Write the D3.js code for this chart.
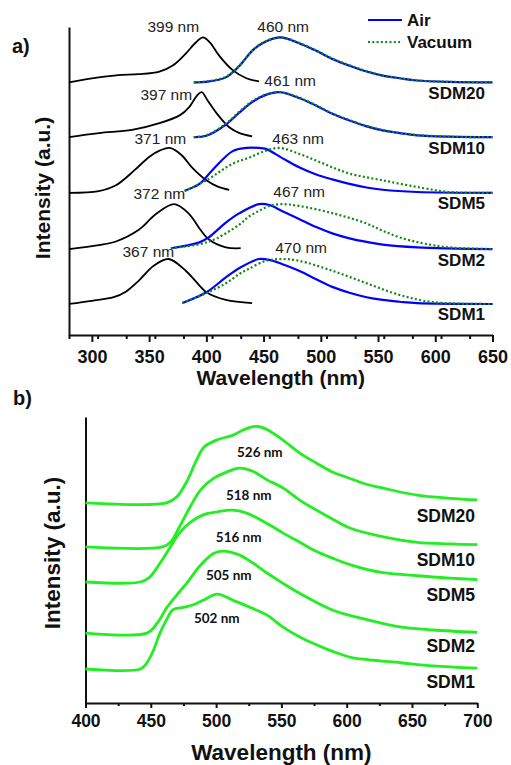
<!DOCTYPE html>
<html>
<head>
<meta charset="utf-8">
<script src="https://cdn.jsdelivr.net/npm/d3@7"></script>
<style>
	body { margin: 0; background: #fff; }
	svg { display: block; font-family: "Liberation Sans", Arial, sans-serif; }
	.tick text { font-size: 18px; font-weight: bold; fill: #111; }
	.axis path, .axis line { stroke: #111; stroke-width: 2px; }
</style>
</head>
<body>
<div id="chart"></div>
<script>
// ---------- panel a : absorption (black) + emission air / vacuum ----------
var samplesA = ["SDM20", "SDM10", "SDM5", "SDM2", "SDM1"];
var offsetsA = [4.93, 3.71, 2.47, 1.22, 0];

var absSDM20 = [[280,0],[306,.11],[323,.16],[341,.18],[359,.24],[371,.38],[382,.64],[391,.89],[397,1],[403,.89],[411,.6],[423,.27],[435,.09],[446,.02]];
var absSDM10 = [[280,0],[306,.09],[335,.16],[359,.31],[377,.49],[385,.67],[392,.93],[396,1],[401,.82],[409,.53],[420,.22],[429,.09],[440,.02]];
var absSDM5  = [[280,0],[306,.04],[321,.17],[337,.5],[350,.8],[360,.95],[368,1],[378,.85],[388,.55],[400,.28],[410,.14],[420,.07]];
var absSDM2  = [[280,0],[306,.09],[321,.17],[341,.43],[356,.78],[372,1],[385,.78],[394,.46],[402,.22],[417,.04],[430,.02]];
var absSDM1  = [[280,0],[300,.07],[319,.15],[330,.28],[341,.52],[354,.85],[367,1],[382,.74],[394,.41],[400,.26],[417,.09],[440,.02]];

var airSDM20 = [[389,0],[400,.01],[417,.11],[429,.37],[440,.7],[449,.87],[464,1],[481,.87],[496,.7],[510,.52],[525,.37],[540,.24],[554,.15],[569,.09],[584,.04],[612,.01],[650,0]];
var vacSDM20 = [[389,0],[400,.02],[417,.12],[429,.38],[440,.7],[449,.88],[464,1],[481,.88],[496,.71],[510,.53],[525,.38],[540,.25],[554,.15],[569,.09],[584,.04],[612,.01],[650,0]];
var airSDM10 = [[389,0],[400,.03],[417,.28],[429,.55],[440,.78],[452,.94],[464,1],[481,.87],[496,.7],[510,.52],[525,.37],[540,.24],[554,.15],[569,.09],[584,.04],[612,.01],[650,0]];
var vacSDM10 = [[389,0],[400,.04],[417,.3],[429,.57],[440,.8],[452,.95],[465,1],[481,.88],[496,.71],[510,.53],[525,.38],[540,.25],[554,.16],[569,.09],[584,.05],[612,.01],[650,0]];
var airSDM5  = [[381,.05],[394,.2],[405,.5],[423,.93],[435,1],[446,1],[452,.98],[466,.78],[481,.57],[496,.41],[510,.3],[525,.2],[540,.12],[554,.07],[584,.02],[650,0]];
var vacSDM5  = [[381,.04],[400,.28],[423,.65],[437,.78],[451,.93],[464,1],[481,.87],[496,.72],[510,.57],[525,.43],[554,.28],[589,.11],[612,.02],[650,0]];
var airSDM2  = [[369,.02],[394,.15],[402,.26],[417,.59],[429,.8],[446,1],[455,.98],[466,.85],[481,.67],[496,.49],[510,.35],[525,.24],[540,.16],[554,.1],[584,.04],[650,0]];
var vacSDM2  = [[369,.02],[394,.11],[409,.24],[429,.55],[437,.72],[446,.85],[455,.96],[466,1],[481,.96],[510,.8],[540,.57],[554,.41],[569,.26],[589,.13],[612,.04],[650,0]];
var airSDM1  = [[379,.02],[400,.26],[417,.59],[429,.8],[446,1],[455,.98],[466,.89],[481,.74],[496,.55],[510,.38],[525,.25],[540,.15],[554,.09],[569,.05],[584,.02],[650,0]];
var vacSDM1  = [[379,.02],[400,.24],[417,.46],[429,.67],[437,.78],[452,.96],[466,1],[481,.96],[510,.74],[540,.46],[569,.2],[598,.04],[650,0]];

var absData = [absSDM20, absSDM10, absSDM5, absSDM2, absSDM1];
var airData = [airSDM20, airSDM10, airSDM5, airSDM2, airSDM1];
var vacData = [vacSDM20, vacSDM10, vacSDM5, vacSDM2, vacSDM1];

var absPeakText = ["399 nm", "397 nm", "371 nm", "372 nm", "367 nm"];
var absPeakAt   = [[393.7,1.11],[387.6,.82],[382.4,1.09],[381.5,1.11],[371.9,1.04]];   // right edge (nm), height
var emPeakText  = ["460 nm", "461 nm", "463 nm", "467 nm", "470 nm"];
var emPeakAt    = [[444.5,1.11],[450.6,1.13],[457.6,1.09],[458.5,1.16],[460.2,1.13]];   // left edge (nm), height
var ticksA = [300, 350, 400, 450, 500, 550, 600, 650];

// ---------- panel b : green emission ----------
var samplesB = ["SDM20", "SDM10", "SDM5", "SDM2", "SDM1"];
var offsetsB = [2.128, 1.564, 1.115, 0.46, 0];

var pbSDM20 = [[400,0],[462,0],[470,.08],[478,.29],[485,.55],[491,.72],[501,.81],[513,.87],[520,.93],[526,.97],[532,.98],[538,.95],[544,.89],[551,.81],[564,.64],[577,.51],[590,.39],[600,.33],[615,.24],[628,.19],[654,.1],[679,.06],[700,.04]];
var pbSDM10 = [[400,0],[459,0],[465,.06],[472,.26],[480,.51],[488,.73],[498,.88],[508,.96],[518,1.01],[528,.97],[539,.86],[551,.76],[564,.6],[577,.47],[590,.35],[603,.24],[628,.13],[654,.06],[679,.04],[700,.03]];
var pbSDM5  = [[400,0],[442,0],[449,.06],[457,.24],[465,.45],[472,.63],[480,.76],[490,.86],[501,.9],[513,.92],[524,.88],[541,.73],[551,.63],[564,.51],[577,.39],[590,.3],[603,.22],[616,.16],[628,.12],[654,.08],[679,.05],[700,.03]];
var pbSDM2  = [[400,0],[447,0],[455,.13],[462,.32],[470,.49],[478,.65],[488,.87],[498,1.02],[505,1.05],[518,1.0],[528,.9],[539,.77],[551,.64],[564,.51],[590,.29],[616,.17],[641,.08],[666,.04],[700,.01]];
var pbSDM1  = [[400,0],[442,0],[447,.08],[452,.24],[457,.46],[462,.63],[467,.76],[475,.79],[482,.82],[490,.88],[501,.96],[513,.88],[526,.79],[539,.69],[551,.54],[564,.41],[577,.31],[590,.22],[603,.15],[616,.12],[641,.08],[666,.04],[700,.01]];
var pbData = [pbSDM20, pbSDM10, pbSDM5, pbSDM2, pbSDM1];

var pbPeakText = ["526 nm", "518 nm", "516 nm", "505 nm", "502 nm"];
var pbPeakAt   = [[516,.59],[507.5,.6],[499.8,.51],[492.2,.68],[483,.59]];   // left edge (nm), height
var ticksB = [400, 450, 500, 550, 600, 650, 700];

// ---------- drawing ----------
var W = 511, H = 765;
var svg = d3.select("#chart").append("svg").attr("width", W).attr("height", H);
var smooth = d3.curveCatmullRom.alpha(0.5);

function drawPanel(cfg) {
	var x = d3.scaleLinear().domain(cfg.xDomain).range(cfg.xRange);
	var y = d3.scaleLinear().domain(cfg.yDomain).range(cfg.yRange);
	var g = svg.append("g");

	// minor ticks
	var minor = d3.range(cfg.xDomain[0], cfg.xDomain[1] + 0.1, 25).filter(function(v){ return cfg.ticks.indexOf(v) < 0; });
	g.append("g").attr("class", "axis")
		.attr("transform", "translate(0," + cfg.yRange[0] + ")")
		.call(d3.axisBottom(x).tickValues(minor).tickSize(cfg.minorLen).tickFormat(""))
		.select(".domain").remove();
	g.append("g").attr("class", "axis")
		.attr("transform", "translate(0," + cfg.yRange[0] + ")")
		.call(d3.axisBottom(x).tickValues(cfg.ticks).tickSizeInner(cfg.majorLen).tickSizeOuter(0).tickPadding(cfg.pad).tickFormat(d3.format("d")))
		.selectAll(".tick text").style("font-size", cfg.tickFont + "px");
	g.append("g").attr("class", "axis")
		.attr("transform", "translate(" + cfg.xRange[0] + ",0)")
		.call(d3.axisLeft(y).tickValues([]).tickSizeOuter(0));

	g.append("text").attr("x", (cfg.xRange[0] + cfg.xRange[1]) / 2).attr("y", cfg.titleY)
		.attr("text-anchor", "middle").style("font-size", cfg.titleFont + "px").style("font-weight", "bold").attr("fill", "#111")
		.text("Wavelength (nm)");
	g.append("text").attr("transform", "translate(" + cfg.yTitle[0] + "," + cfg.yTitle[1] + ") rotate(-90)")
		.attr("text-anchor", "middle").attr("dy", "0.36em")
		.style("font-size", cfg.titleFont + "px").style("font-weight", "bold").attr("fill", "#111")
		.text("Intensity (a.u.)");
	g.append("text").attr("x", cfg.tag[0]).attr("y", cfg.tag[1])
		.style("font-size", "20px").style("font-weight", "bold").attr("fill", "#111").text(cfg.tagText);
	return {x: x, y: y, g: g};
}

// panel a
var A = drawPanel({
	xDomain: [280, 650], xRange: [69, 492.5],
	yDomain: [-0.69, 6.16], yRange: [335, 27],
	ticks: ticksA, majorLen: 7, minorLen: 4, pad: 8, tickFont: 18,
	titleY: 385, titleFont: 21, yTitle: [42, 188], tag: [12, 53], tagText: "a)"
});

function lineA(off) {
	return d3.line().curve(smooth)
		.x(function(d){ return A.x(d[0]); })
		.y(function(d){ return A.y(d[1] + off); });
}

samplesA.forEach(function(s, i) {
	var off = offsetsA[i];
	A.g.append("path").attr("d", lineA(off)(absData[i]))
		.attr("fill", "none").attr("stroke", "#000").attr("stroke-width", 1.8);
	A.g.append("path").attr("d", lineA(off)(airData[i]))
		.attr("fill", "none").attr("stroke", "#0000ff").attr("stroke-width", 2.2);
	A.g.append("path").attr("d", lineA(off)(vacData[i]))
		.attr("fill", "none").attr("stroke", "#128a12").attr("stroke-width", 2.2).attr("stroke-dasharray", "2,2.3");

	A.g.append("text").attr("x", A.x(absPeakAt[i][0])).attr("y", A.y(off + absPeakAt[i][1]))
		.attr("text-anchor", "end").style("font-size", "15.5px").attr("fill", "#222").text(absPeakText[i]);
	A.g.append("text").attr("x", A.x(emPeakAt[i][0])).attr("y", A.y(off + emPeakAt[i][1]))
		.attr("text-anchor", "start").style("font-size", "15.5px").attr("fill", "#222").text(emPeakText[i]);
	A.g.append("text").attr("x", 485).attr("y", A.y(off) + 16.5)
		.attr("text-anchor", "end").style("font-size", "17px").style("font-weight", "bold").attr("fill", "#111").text(s);
});

// legend
var leg = A.g.append("g");
leg.append("line").attr("x1", 368).attr("x2", 402).attr("y1", 20).attr("y2", 20)
	.attr("stroke", "#0000ff").attr("stroke-width", 2.2);
leg.append("text").attr("x", 407).attr("y", 26).style("font-size", "17px").style("font-weight", "bold").attr("fill", "#111").text("Air");
leg.append("line").attr("x1", 368).attr("x2", 402).attr("y1", 42).attr("y2", 42)
	.attr("stroke", "#128a12").attr("stroke-width", 2.2).attr("stroke-dasharray", "2,2.3");
leg.append("text").attr("x", 407).attr("y", 48).style("font-size", "17px").style("font-weight", "bold").attr("fill", "#111").text("Vacuum");

// panel b
var B = drawPanel({
	xDomain: [400, 700], xRange: [85.5, 477.3],
	yDomain: [-0.436, 3.23], yRange: [703, 417],
	ticks: ticksB, majorLen: 5, minorLen: 3, pad: 7, tickFont: 17.5,
	titleY: 760, titleFont: 22.5, yTitle: [52, 553], tag: [13, 405], tagText: "b)"
});

samplesB.forEach(function(s, i) {
	var off = offsetsB[i];
	var ln = d3.line().curve(smooth)
		.x(function(d){ return B.x(d[0]); })
		.y(function(d){ return B.y(d[1] + off); });
	B.g.append("path").attr("d", ln(pbData[i]))
		.attr("fill", "none").attr("stroke", "#22ee22").attr("stroke-width", 2.8).attr("stroke-linejoin", "round");
	B.g.append("text").attr("x", B.x(pbPeakAt[i][0])).attr("y", B.y(off + pbPeakAt[i][1]))
		.style("font-family", "Lato, 'Open Sans', sans-serif").style("font-size", "13.5px").style("font-weight", "bold")
		.attr("fill", "#111").text(pbPeakText[i]);
	B.g.append("text").attr("x", 475).attr("y", B.y(off) + 19)
		.attr("text-anchor", "end").style("font-size", "17.5px").style("font-weight", "bold").attr("fill", "#111").text(s);
});
</script>
</body>
</html>
